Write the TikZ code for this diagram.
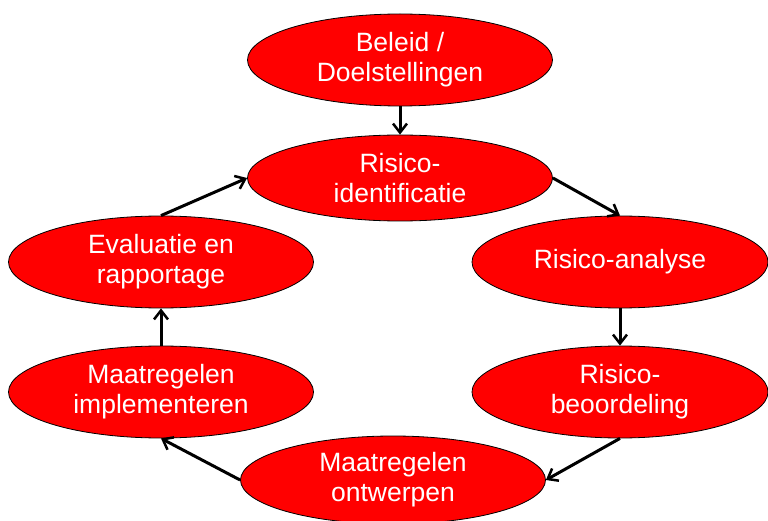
\documentclass[tikz,border=0pt]{standalone}
\usepackage{fontspec}
\setmainfont{Liberation Sans}
\usetikzlibrary{shapes.geometric,arrows.meta}

\begin{document}
\begin{tikzpicture}[x=1pt,y=-1pt,
  stap/.style={ellipse,draw=black,line width=0.8pt,fill=red,text=white,inner sep=0pt,
    minimum width=305pt,minimum height=92pt,align=center,font=\fontsize{26.5}{30}\selectfont},
  pijl/.style={-{Straight Barb[length=9pt,width=14pt,line width=2.5pt]},line width=3pt}]
\useasboundingbox (0,0) rectangle (768,521);
\node[stap] (beleid) at (400,60) {Beleid /\\Doelstellingen};
\node[stap,minimum height=86pt] (risicoIdent) at (400,178) {Risico-\\identificatie};
\node[stap,minimum width=296pt] (risicoAnalyse) at (620,262) {Risico-analyse};
\node[stap,minimum width=296pt] (risicoBeoord) at (620,392) {Risico-\\beoordeling};
\node[stap,minimum height=88pt] (maatrOntw) at (393,480) {Maatregelen\\ontwerpen};
\node[stap] (maatrImpl) at (161,392) {Maatregelen\\implementeren};
\node[stap] (evaluatie) at (161,262) {Evaluatie en\\rapportage};
\draw[pijl] (beleid) -- (risicoIdent);
\draw[pijl] (risicoIdent.east) -- (risicoAnalyse.north);
\draw[pijl] (risicoAnalyse) -- (risicoBeoord);
\draw[pijl] (risicoBeoord.south) -- (maatrOntw.east);
\draw[pijl] (maatrOntw.west) -- (maatrImpl.south);
\draw[pijl] (maatrImpl) -- (evaluatie);
\draw[pijl] (evaluatie.north) -- (risicoIdent.west);
\end{tikzpicture}
\end{document}
